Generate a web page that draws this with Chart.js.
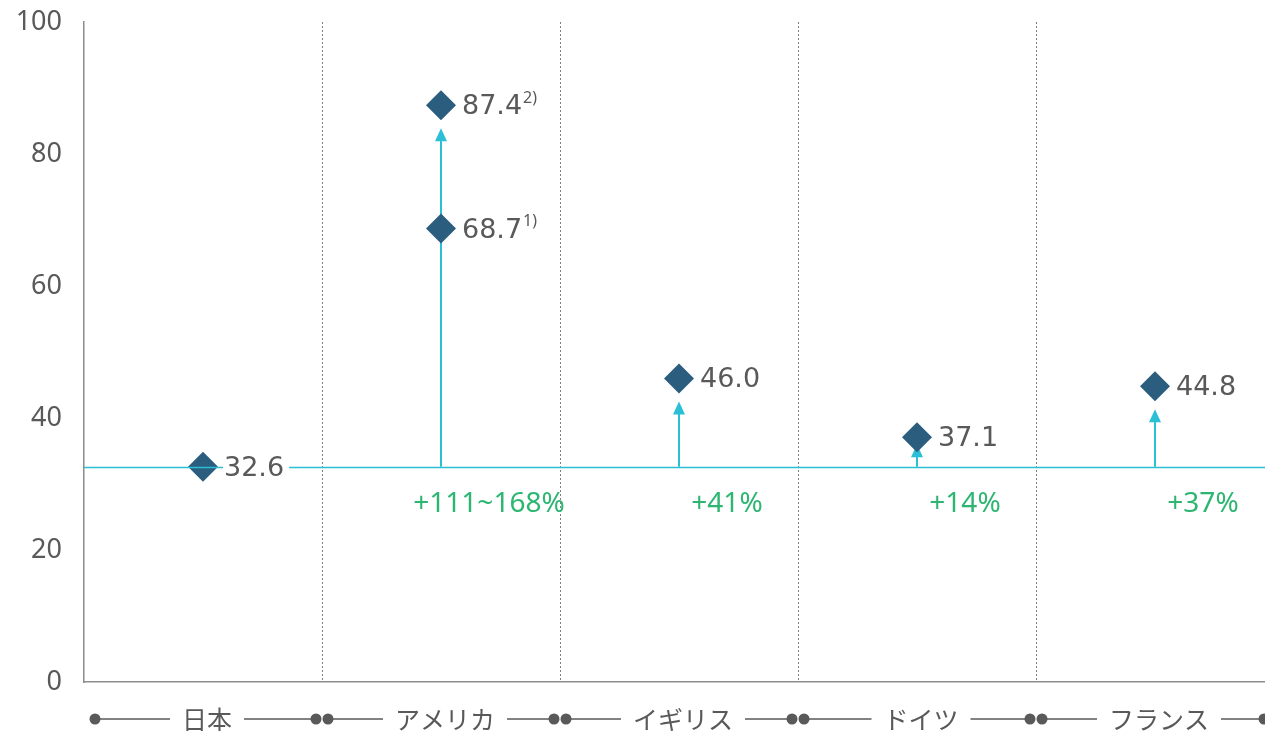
<!DOCTYPE html>
<html>
<head>
<meta charset="utf-8">
<script src="https://cdn.jsdelivr.net/npm/chart.js@4.4.1/dist/chart.umd.min.js"></script>
<style>
  html, body { margin: 0; padding: 0; background: #fff; overflow: hidden; }
  #wrap { width: 1274px; height: 731px; position: relative; }
</style>
</head>
<body>
<div id="wrap"><canvas id="chart"></canvas></div>
<script>
const categories = ["日本", "アメリカ", "イギリス", "ドイツ", "フランス"];
const mainValues = [32.6, 68.7, 46.0, 37.1, 44.8];
const upperValues = [null, 87.4, null, null, null];
const mainNotes = ["", "1)", "", "", ""];
const upperNotes = ["", "2)", "", "", ""];
const growthLabels = ["", "+111~168%", "+41%", "+14%", "+37%"];
const baseValue = 32.6;
const yTicks = [0, 20, 40, 60, 80, 100];

const GRAY = "#595959";
const NAVY = "#2b5d7e";
const CYAN = "#2bbfd6";
const GREEN = "#2db672";
const NUM_FONT = '27px "DejaVu Sans"';

function topValue(i) {
  return upperValues[i] != null ? upperValues[i] : mainValues[i];
}

const overlay = {
  id: "overlay",
  beforeDatasetsDraw(chart) {
    const { ctx, chartArea: a, scales: { x, y } } = chart;
    ctx.save();
    // dotted category separators
    ctx.strokeStyle = "#7f7f7f";
    ctx.lineWidth = 1;
    ctx.setLineDash([2, 2]);
    for (let i = 1; i < categories.length; i++) {
      const bx = Math.round((x.getPixelForValue(i - 1) + x.getPixelForValue(i)) / 2) + 0.5;
      ctx.beginPath();
      ctx.moveTo(bx, a.top);
      ctx.lineTo(bx, a.bottom);
      ctx.stroke();
    }
    ctx.setLineDash([]);
    // arrows from base to value
    const by = y.getPixelForValue(baseValue);
    ctx.strokeStyle = CYAN;
    ctx.fillStyle = CYAN;
    ctx.lineWidth = 2;
    categories.forEach((c, i) => {
      const v = topValue(i);
      if (v <= baseValue + 0.5) return;
      const px = x.getPixelForValue(i);
      const vy = y.getPixelForValue(v);
      const tip = (by - vy) > 40 ? vy + 23 : vy + 7;
      ctx.beginPath();
      ctx.moveTo(px, by);
      ctx.lineTo(px, tip + 10);
      ctx.stroke();
      ctx.beginPath();
      ctx.moveTo(px, tip);
      ctx.lineTo(px - 6, tip + 13);
      ctx.lineTo(px + 6, tip + 13);
      ctx.closePath();
      ctx.fill();
    });
    ctx.restore();
  },
  afterDatasetsDraw(chart) {
    const { ctx, chartArea: a, scales: { x, y } } = chart;
    ctx.save();
    // base line
    const by = Math.round(y.getPixelForValue(baseValue)) + 0.5;
    ctx.strokeStyle = CYAN;
    ctx.lineWidth = 1.5;
    ctx.beginPath();
    ctx.moveTo(a.left, by);
    ctx.lineTo(a.right, by);
    ctx.stroke();

    // value labels
    ctx.textBaseline = "middle";
    ctx.textAlign = "left";
    const drawValue = (i, v, note, clear) => {
      const px = x.getPixelForValue(i) + 21;
      const py = y.getPixelForValue(v) + 2;
      const txt = v.toFixed(1);
      ctx.font = NUM_FONT;
      const w = ctx.measureText(txt).width;
      if (clear) {
        ctx.fillStyle = "#fff";
        ctx.fillRect(px - 1, py - 15, w + 6, 30);
      }
      ctx.fillStyle = GRAY;
      ctx.fillText(txt, px, py);
      if (note) {
        ctx.font = '16px "Noto Sans"';
        ctx.fillText(note, px + w + 1, py - 9);
      }
    };
    categories.forEach((c, i) => {
      drawValue(i, mainValues[i], mainNotes[i], i === 0);
      if (upperValues[i] != null) drawValue(i, upperValues[i], upperNotes[i], false);
    });

    // growth labels
    ctx.font = '28px "Noto Sans"';
    ctx.fillStyle = GREEN;
    ctx.textAlign = "center";
    categories.forEach((c, i) => {
      if (!growthLabels[i]) return;
      ctx.fillText(growthLabels[i], x.getPixelForValue(i) + 48, by + 37);
    });

    // bottom category axis with dots
    const ly = a.bottom + 37;
    const half = (x.getPixelForValue(1) - x.getPixelForValue(0)) / 2;
    ctx.strokeStyle = GRAY;
    ctx.fillStyle = GRAY;
    ctx.lineWidth = 1.5;
    ctx.font = '25px "Noto Sans CJK JP"';
    ctx.textAlign = "center";
    categories.forEach((c, i) => {
      const cx = x.getPixelForValue(i);
      const left = i === 0 ? a.left + 11 : cx - half + 6;
      const right = Math.min(cx + half - 6, 1264);
      const lx = cx + 4;
      const tw = ctx.measureText(c).width;
      ctx.beginPath();
      ctx.moveTo(left, ly);
      ctx.lineTo(lx - tw / 2 - 12, ly);
      ctx.moveTo(lx + tw / 2 + 12, ly);
      ctx.lineTo(right, ly);
      ctx.stroke();
      ctx.fillText(c, lx, ly);
      [left, right].forEach(dx => {
        ctx.beginPath();
        ctx.arc(dx, ly, 5.5, 0, Math.PI * 2);
        ctx.fill();
      });
    });
    ctx.restore();
  }
};

new Chart(document.getElementById("chart"), {
  type: "line",
  data: {
    labels: categories,
    datasets: [
      {
        data: mainValues,
        showLine: false,
        pointStyle: "rectRot",
        pointRadius: 15,
        pointHoverRadius: 15,
        backgroundColor: NAVY,
        borderColor: NAVY,
        borderWidth: 0
      },
      {
        data: upperValues,
        showLine: false,
        pointStyle: "rectRot",
        pointRadius: 15,
        pointHoverRadius: 15,
        backgroundColor: NAVY,
        borderColor: NAVY,
        borderWidth: 0
      }
    ]
  },
  options: {
    responsive: true,
    maintainAspectRatio: false,
    animation: false,
    layout: { autoPadding: false, padding: { top: 22, bottom: 41, left: 0, right: 0 } },
    plugins: { legend: { display: false }, tooltip: { enabled: false } },
    scales: {
      x: {
        offset: true,
        grid: { display: false },
        ticks: { display: false },
        border: { display: true, color: "#8c8c8c", width: 1.5 }
      },
      y: {
        min: 0,
        max: 100,
        afterBuildTicks(scale) { scale.ticks = yTicks.map(v => ({ value: v })); },
        afterFit(scale) {
          scale.width = 84;
          scale.paddingTop = 0;
          scale.paddingBottom = 0;
        },
        grid: { display: false },
        border: { display: true, color: "#8c8c8c", width: 1.5 },
        ticks: {
          padding: 14,
          color: GRAY,
          font: { family: "Noto Sans", size: 27 }
        }
      }
    }
  },
  plugins: [overlay]
});
</script>
</body>
</html>
